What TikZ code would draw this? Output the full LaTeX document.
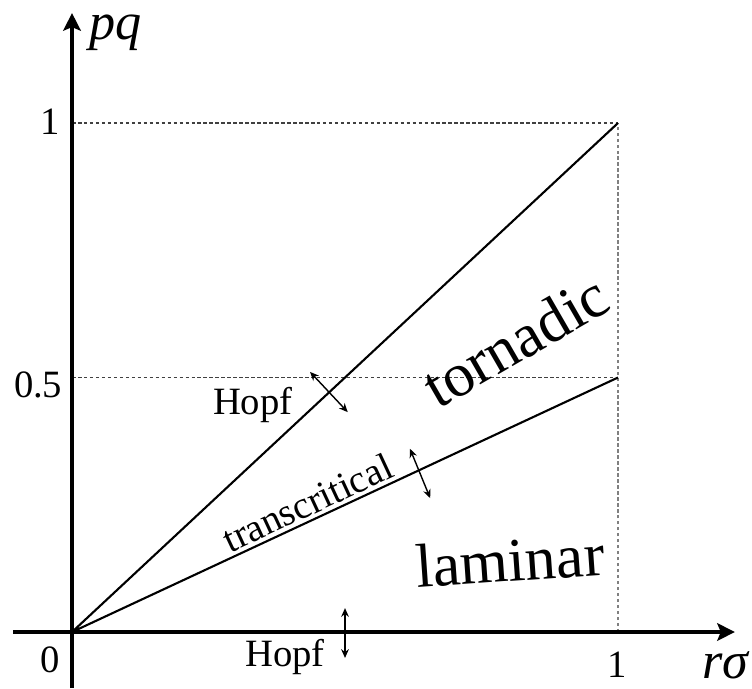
\documentclass[tikz,border=0pt]{standalone}
\usepackage{fontspec}
\setmainfont{Liberation Serif}
\usetikzlibrary{arrows.meta}

\begin{document}
\begin{tikzpicture}[x=5.46cm, y=5.09cm, font=\fontsize{11}{13}\selectfont,
  axis/.style={line width=1.15pt, -{Stealth[length=5pt,width=5pt,inset=1pt]}},
  guide/.style={line width=0.3pt, black!75, dash pattern=on 1pt off 0.7pt},
  branch/.style={line width=0.6pt},
  flip/.style={line width=0.4pt, {Stealth[length=2.5pt,width=2.2pt]}-{Stealth[length=2.5pt,width=2.2pt]}},
  region/.style={scale=1.6, inner sep=0pt},
  axl/.style={scale=1.35, font=\fontsize{11}{13}\selectfont\itshape}]
 \useasboundingbox (-0.1319,-0.110) rectangle (1.2454,1.2417);
 % corners of the diagram
 \coordinate (O) at (0,0);
 \coordinate (T) at (1,1);
 \coordinate (H) at (1,0.5);
 \coordinate (X1) at (1,0);
 \coordinate (Y1) at (0,1);
 \coordinate (Yh) at (0,0.5);
 \coordinate (xs) at (-0.108,0);
 \coordinate (xe) at (1.214,0);
 \coordinate (ys) at (0,-0.11);
 \coordinate (ye) at (0,1.216);
 % guides, axes and branches
 \draw[guide] (Y1) -- (T);
 \draw[guide] (Yh) -- (H);
 \draw[guide, black!50] (X1) -- (T);
 \draw[axis] (xs) -- (xe);
 \draw[axis] (ys) -- (ye);
 \draw[branch] (O) -- (T) (O) -- (H);
 % tick labels
 \node (n0) at (-0.04,-0.055) {0};
 \node (nx1) at (0.998,-0.065) {1};
 \node (ny1) at (-0.04,1.002) {1};
 \node (nyh) at (-0.062,0.485) {0.5};
 \node[axl] (lpq) at (0.079,1.177) {pq};
 \node[axl] (lrs) at (1.196,-0.065) {rσ};
 % regions
 \node[region, rotate=30] (torn) at (0.812,0.572) {tornadic};
 \node[region, rotate=4] (lam) at (0.802,0.141) {laminar};
 \path (O) -- (H) node[pos=0.445, sloped, above=0pt, inner sep=1pt] (trans) {transcritical};
 \node (hopfu) at (0.331,0.446) {Hopf};
 \node (hopfb) at (0.390,-0.049) {Hopf};
 % crossing arrows
 \coordinate (fa1) at (0.436,0.511);
 \coordinate (fa2) at (0.505,0.432);
 \coordinate (fb1) at (0.619,0.360);
 \coordinate (fb2) at (0.656,0.263);
 \coordinate (fc1) at (0.5,0.047);
 \coordinate (fc2) at (0.5,-0.051);
 \foreach \a/\b in {fa1/fa2,fb1/fb2,fc1/fc2}
   \draw[flip] (\a) -- (\b);
\end{tikzpicture}
\end{document}
